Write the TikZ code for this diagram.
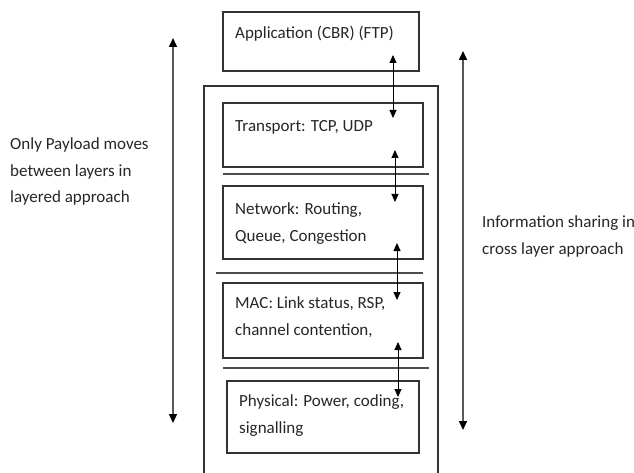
\documentclass[tikz,border=0pt]{standalone}
\usepackage{fontspec}
\setmainfont{Carlito}
\usetikzlibrary{arrows.meta}
\begin{document}
\begin{tikzpicture}[x=1pt,y=-1pt,
  layerbox/.style={draw=black!80,line width=1.2pt},
  sepline/.style={draw=black!70,line width=1.2pt},
  txt/.style={anchor=base west,inner sep=0pt,align=left,text=black!85,
    font=\fontsize{17}{26.5}\selectfont},
  smallarr/.style={line width=0.9pt,{Triangle[length=8pt,width=7pt]}-{Triangle[length=8pt,width=7pt]}},
  bigarr/.style={draw=black!65,line width=1.5pt,{Triangle[length=9pt,width=8pt,fill=black,color=black]}-{Triangle[length=9pt,width=8pt,fill=black,color=black]}}]
\useasboundingbox (0,0) rectangle (634,473);
% outer frame (open at bottom)
\draw[layerbox] (204,474) -- (204,86) -- (438,86) -- (438,474);
% boxes
\draw[layerbox] (223,12) rectangle (419,71);
\draw[layerbox] (223,103) rectangle (423,167);
\draw[layerbox] (223,186) rectangle (423,259);
\draw[layerbox] (223,283) rectangle (423,358);
\draw[layerbox] (227,381) rectangle (419,453);
% separators
\draw[sepline] (223,174) -- (429,174);
\draw[sepline] (216,273) -- (423,273);
\draw[sepline] (223,368) -- (429,368);
% texts (base anchor = baseline of last line)
\node[txt] (app) at (235,39) {Application (CBR) (FTP)};
\node[txt] (tr) at (235,132) {Transport: TCP, UDP};
\node[txt] (net) at (235,241) {Network: Routing,\\Queue, Congestion};
\node[txt] (mac) at (235,335) {MAC: Link status, RSP,\\channel contention,};
\node[txt] (phy) at (239,433) {Physical: Power, coding,\\signalling};
\node[txt] (left) at (10,203) {Only Payload moves\\between layers in\\layered approach};
\node[txt] (right) at (482,254) {Information sharing in\\cross layer approach};
% small arrows
\coordinate (a1) at (393,55); \coordinate (b1) at (393,118);
\coordinate (a2) at (395,150); \coordinate (b2) at (395,202);
\coordinate (a3) at (397,243); \coordinate (b3) at (397,300);
\coordinate (a4) at (398,342); \coordinate (b4) at (398,397);
\draw[smallarr] (a1) -- (b1);
\draw[smallarr] (a2) -- (b2);
\draw[smallarr] (a3) -- (b3);
\draw[smallarr] (a4) -- (b4);
% big arrows
\coordinate (l1) at (173,38); \coordinate (l2) at (173,423);
\coordinate (r1) at (463,51); \coordinate (r2) at (463,430);
\draw[bigarr] (l1) -- (l2);
\draw[bigarr] (r1) -- (r2);
\end{tikzpicture}
\end{document}
